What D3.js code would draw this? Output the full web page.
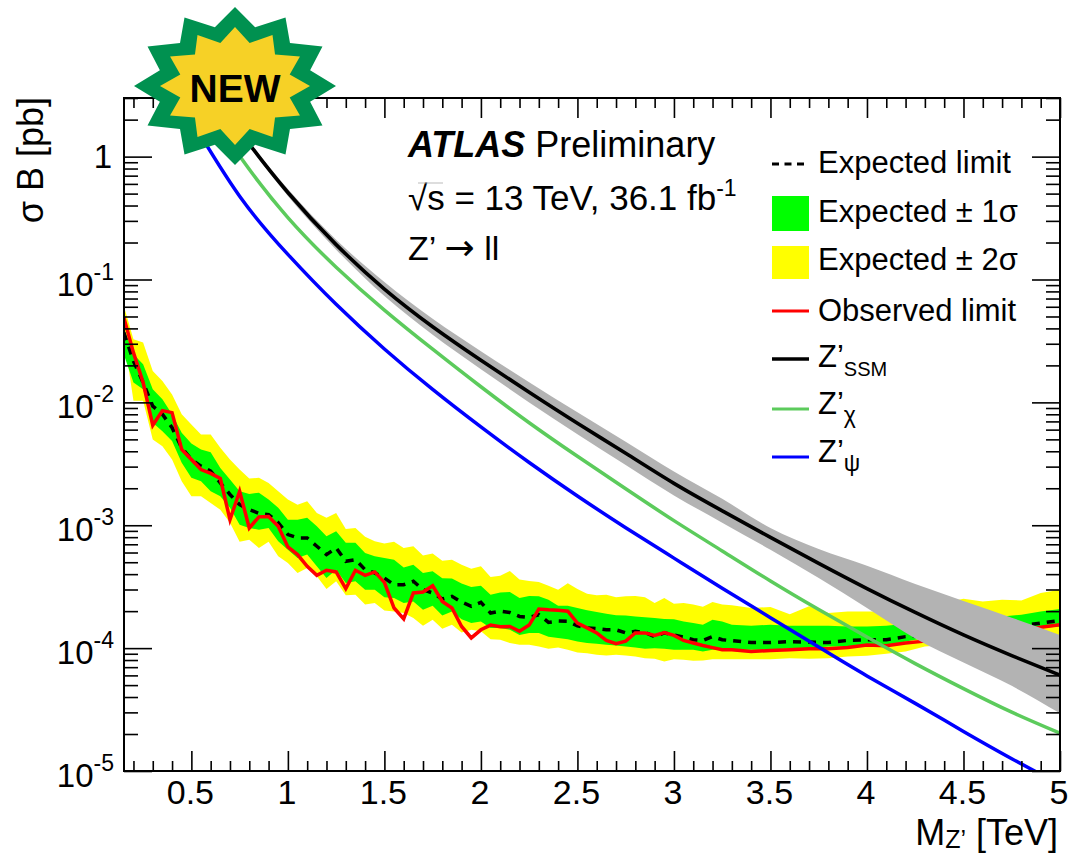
<!DOCTYPE html>
<html>
<head>
<meta charset="utf-8">
<style>
  html, body { margin: 0; padding: 0; background: #fff; }
  svg { display: block; }
  text { font-family: "Liberation Sans", Arial, sans-serif; fill: #000; }
</style>
<script src="https://cdn.jsdelivr.net/npm/d3@7"></script>
</head>
<body>
<svg id="chart" width="1068" height="854"></svg>
<script>
// limit scan: 0.05 TeV steps up to 3.25, 0.1 TeV steps above that
const scanMasses = [
  0.15, 0.2, 0.25, 0.3, 0.35, 0.4, 0.45, 0.5, 0.55, 0.6, 0.65, 0.7, 0.75, 0.8, 0.85, 0.9, 0.95,
  1, 1.05, 1.1, 1.15, 1.2, 1.25, 1.3, 1.35, 1.4, 1.45, 1.5, 1.55, 1.6, 1.65, 1.7,
  1.75, 1.8, 1.85, 1.9, 1.95, 2, 2.05, 2.1, 2.15, 2.2, 2.25, 2.3, 2.35, 2.4, 2.45, 2.5,
  2.55, 2.6, 2.65, 2.7, 2.75, 2.8, 2.85, 2.9, 2.95, 3, 3.05, 3.1, 3.15, 3.2, 3.25,
  3.3, 3.4, 3.5, 3.6, 3.7, 3.8, 3.9, 4, 4.1, 4.2, 4.3, 4.4, 4.5, 4.6, 4.7, 4.8, 4.9, 5
];

// all limit values below are in units of 1e-4 pb
const expectedLimit = [
  370, 217, 145, 93.3, 80, 62.2, 42.7, 34.3, 30.3, 27.6, 22.1, 17.8, 14.7, 13.4, 12.5, 12.2, 10.5,
  8.4, 7.89, 7.89, 6.75, 5.77, 6.54, 5.09, 5.25, 4.35, 4.09, 3.72, 3.28, 3.28, 3.5, 2.99,
  2.81, 2.51, 2.64, 2.37, 2.19, 2.36, 1.93, 2, 1.95, 1.81, 1.78, 1.87, 1.62, 1.66, 1.65, 1.52,
  1.46, 1.44, 1.41, 1.41, 1.33, 1.37, 1.34, 1.24, 1.33, 1.28, 1.23, 1.17, 1.155, 1.24, 1.17,
  1.15, 1.11, 1.11, 1.13, 1.12, 1.11, 1.155, 1.17, 1.17, 1.24, 1.28, 1.37, 1.41, 1.46, 1.48, 1.52, 1.6, 1.68
];
const observedLimit = [
  490, 254, 145, 65.1, 85.7, 82.5, 41.4, 34.3, 28.4, 26.4, 24, 11.1, 18.9, 9.5, 11.7, 11.8, 9.81,
  6.66, 5.77, 4.63, 3.91, 4.3, 4.17, 3.05, 4.3, 3.91, 4.17, 3.43, 2.12, 1.73, 2.81, 2.86,
  3.22, 2.4, 2.12, 1.5, 1.21, 1.41, 1.54, 1.49, 1.5, 1.37, 1.54, 2.08, 2.05, 2.03, 2, 1.6,
  1.46, 1.33, 1.155, 1.085, 1.14, 1.33, 1.33, 1.27, 1.34, 1.27, 1.155, 1.1, 1.05, 1.01, 0.97,
  0.97, 0.94, 0.957, 0.97, 0.988, 0.988, 1.01, 1.06, 1.045, 1.1, 1.14, 1.17, 1.23, 1.26, 1.3, 1.37, 1.48, 1.55
];
const plus2Sigma = [
  610, 326, 307, 180, 149, 116, 80, 66, 54.8, 54.8, 42.7, 34.3, 28.4, 24, 24.3, 22.1, 18.9,
  16.2, 14.7, 15.7, 12.6, 11.5, 12.6, 9.33, 9.51, 8.06, 7.41, 7.09, 7.33, 6.54, 6.75, 5.66,
  5.88, 5.15, 5.25, 4.78, 4.43, 4.63, 3.79, 3.89, 4.24, 3.61, 3.52, 3.45, 3.22, 2.99, 3.37, 3.03,
  2.77, 2.69, 2.72, 2.6, 2.64, 2.65, 2.6, 2.33, 2.56, 2.3, 2.33, 2.27, 2.17, 2.37, 2.26,
  2.23, 2.12, 2.16, 1.89, 2.19, 1.93, 1.99, 1.99, 1.99, 2.05, 2.16, 2.33, 2.52, 2.4, 2.48, 2.44, 2.81, 2.99
];
const plus1Sigma = [
  406, 246, 204, 128, 106, 80, 56.6, 46.3, 41.4, 39.3, 29.3, 23.6, 18.9, 18, 18.4, 16.2, 13.9,
  11.1, 11.1, 11.5, 9.81, 8.13, 8.93, 7.19, 7.19, 5.95, 5.59, 5.42, 5.25, 4.54, 4.78, 4.09,
  4.22, 3.7, 3.68, 3.35, 3.14, 3.22, 2.72, 2.84, 2.86, 2.56, 2.65, 2.64, 2.48, 2.21, 2.21, 2.12,
  2.03, 1.97, 1.9, 1.85, 1.84, 1.81, 1.78, 1.76, 1.73, 1.72, 1.65, 1.6, 1.55, 1.7, 1.65,
  1.55, 1.52, 1.55, 1.52, 1.52, 1.52, 1.5, 1.5, 1.52, 1.58, 1.65, 1.7, 1.76, 1.79, 1.81, 1.87, 1.99, 2.08
];
const minus1Sigma = [
  246, 145, 128, 68.4, 58.2, 48.4, 32.2, 24.3, 22.8, 18.9, 17.2, 13.9, 10.1, 9.51, 9.2, 9.51, 7.41,
  6.33, 5.42, 5.77, 4.63, 3.72, 4.35, 3.39, 3.5, 2.99, 2.99, 2.59, 2.56, 2.33, 2.4, 2.05,
  2.21, 1.84, 1.99, 1.72, 1.6, 1.65, 1.46, 1.46, 1.41, 1.28, 1.33, 1.33, 1.24, 1.21, 1.18, 1.13,
  1.1, 1.085, 1.064, 1.05, 1.03, 1.01, 0.988, 1, 0.988, 0.97, 0.97, 0.97, 0.94, 0.97, 0.97,
  0.97, 0.97, 0.97, 1, 1, 1.03, 1.03, 1.045, 1.03, 1.13, 1.21, 1.24, 1.28, 1.33, 1.37, 1.41, 1.46, 1.5
];
const minus2Sigma = [
  347, 103, 103, 49.9, 44, 34.3, 22.8, 17.2, 17.2, 15.2, 13.4, 10.5, 7.33, 7.63, 6.54, 7.33, 5.59,
  4.94, 4.09, 4.49, 3.84, 3.03, 3.5, 2.69, 2.72, 2.26, 2.33, 2.02, 1.99, 1.93, 1.76, 1.52,
  1.7, 1.44, 1.55, 1.34, 1.41, 1.37, 1.18, 1.17, 1.1, 1.064, 1.064, 1.03, 0.988, 1.01, 0.97, 0.922,
  0.91, 0.882, 0.871, 0.882, 0.871, 0.855, 0.829, 0.818, 0.779, 0.813, 0.803, 0.789, 0.793, 0.813, 0.813,
  0.813, 0.813, 0.813, 0.829, 0.818, 0.829, 0.855, 0.866, 0.9, 0.94, 1.03, 1.06, 1.1, 1.13, 1.155, 1.17, 1.17, 1.17
];

// theory curves, in pb
const theoryMasses = [0.5, 0.75, 1, 1.25, 1.5, 1.75, 2, 2.25, 2.5, 2.75, 3, 3.25, 3.5, 3.75, 4, 4.25, 4.5, 4.75, 5];
const ssmTheory = [5.78, 1.614, 0.5105, 0.1923, 0.0836, 0.0413, 0.02203, 0.01208, 6.76e-3, 3.85e-3, 2.19e-3, 1.31e-3, 7.96e-4, 4.89e-4, 3.05e-4, 1.95e-4, 1.28e-4, 8.69e-5, 6.03e-5];
const ssmUpper = [5.89, 1.675, 0.545, 0.211, 0.0953, 0.048, 0.0261, 0.0146, 8.31e-3, 4.78e-3, 2.74e-3, 1.64e-3, 9.5e-4, 6.41e-4, 4.69e-4, 3.33e-4, 2.42e-4, 1.77e-4, 1.28e-4];
const ssmLower = [5.67, 1.555, 0.478, 0.175, 0.0733, 0.0355, 0.0186, 0.01, 5.5e-3, 3.1e-3, 1.75e-3, 1.05e-3, 6.32e-4, 3.72e-4, 2.12e-4, 1.2e-4, 7.63e-5, 4.93e-5, 2.95e-5];
const chiTheory = [3.9, 1.01, 0.319, 0.126, 0.0564, 0.0271, 0.0134, 6.83e-3, 3.64e-3, 1.98e-3, 1.09e-3, 6.18e-4, 3.52e-4, 2.06e-4, 1.23e-4, 7.48e-5, 4.68e-5, 3.01e-5, 2.03e-5];
const psiTheory = [1.98, 0.476, 0.16, 0.0628, 0.0272, 0.01274, 6.31e-3, 3.24e-3, 1.73e-3, 9.55e-4, 5.4e-4, 3.07e-4, 1.77e-4, 1.02e-4, 5.94e-5, 3.55e-5, 2.1e-5, 1.26e-5, 7.76e-6];

const xMajor = [0.5, 1, 1.5, 2, 2.5, 3, 3.5, 4, 4.5, 5];
const xMinor = d3.range(2, 50).map((d) => d / 10).filter((d) => !xMajor.includes(d));
const yMajor = [1e-5, 1e-4, 1e-3, 1e-2, 1e-1, 1];
const yLabels = ['-5', '-4', '-3', '-2', '-1', null];
const yMinor = yMajor.flatMap((d) => d3.range(2, 10).map((k) => k * d)).filter((d) => d <= 3.001);

const left = 124, right = 1060, top_ = 98, bottom = 771;
const svg = d3.select('#chart');
const x = d3.scaleLinear().domain([0.151, 5]).range([left, right]);
const y = d3.scaleLog().domain([1e-5, 3]).range([bottom, top_]);
const unit = (v) => v * 1e-4;

svg.append('clipPath').attr('id', 'frame')
  .append('rect').attr('x', left).attr('y', top_).attr('width', right - left).attr('height', bottom - top_);

const plot = svg.append('g').attr('clip-path', 'url(#frame)');

function band(masses, upper, lower, colour, shape) {
  const area = d3.area().x((d) => x(d[0])).y0((d) => y(d[1])).y1((d) => y(d[2])).curve(shape || d3.curveLinear);
  plot.append('path').attr('d', area(d3.zip(masses, upper, lower))).attr('fill', colour);
}

function curve(masses, values, colour, width, dash, shape) {
  const line = d3.line().x((d) => x(d[0])).y((d) => y(d[1])).curve(shape || d3.curveLinear);
  plot.append('path').attr('d', line(d3.zip(masses, values)))
    .attr('fill', 'none').attr('stroke', colour).attr('stroke-width', width)
    .attr('stroke-dasharray', dash || null);
}

band(scanMasses, plus2Sigma.map(unit), minus2Sigma.map(unit), '#ffff00');
band(scanMasses, plus1Sigma.map(unit), minus1Sigma.map(unit), '#00ff00');
curve(scanMasses, expectedLimit.map(unit), '#000', 3.5, '8 7');
curve(scanMasses, observedLimit.map(unit), '#ff0000', 3.5);
band(theoryMasses, ssmUpper, ssmLower, '#b3b3b3', d3.curveMonotoneX);
curve(theoryMasses, ssmTheory, '#000', 3.6, null, d3.curveNatural);
curve(theoryMasses, chiTheory, '#5ccb5c', 3.5, null, d3.curveNatural);
curve(theoryMasses, psiTheory, '#0000ff', 3.5, null, d3.curveNatural);

// axes: major and minor ticks on all four sides, labels are added by hand
function ticks(axisFn, scale, values, size, transform) {
  const g = svg.append('g').attr('transform', transform)
    .call(axisFn(scale).tickValues(values).tickSizeInner(-size).tickSizeOuter(0).tickFormat(() => ''));
  g.select('.domain').remove();
  g.selectAll('line').attr('stroke', '#000').attr('stroke-width', 1.6);
}
ticks(d3.axisBottom, x, xMajor, 20, `translate(0,${bottom})`);
ticks(d3.axisBottom, x, xMinor, 10, `translate(0,${bottom})`);
ticks(d3.axisTop, x, xMajor, 20, `translate(0,${top_})`);
ticks(d3.axisTop, x, xMinor, 10, `translate(0,${top_})`);
ticks(d3.axisLeft, y, yMajor, 28, `translate(${left},0)`);
ticks(d3.axisLeft, y, yMinor, 14, `translate(${left},0)`);
ticks(d3.axisRight, y, yMajor, 28, `translate(${right},0)`);
ticks(d3.axisRight, y, yMinor, 14, `translate(${right},0)`);

svg.append('rect').attr('x', left).attr('y', top_).attr('width', right - left).attr('height', bottom - top_)
  .attr('fill', 'none').attr('stroke', '#000').attr('stroke-width', 2);

svg.selectAll('.xlab').data(xMajor).join('text')
  .attr('x', (d) => x(d) - 1).attr('y', 804).attr('text-anchor', 'middle')
  .attr('font-size', 34).text((d) => d);

yMajor.forEach((d, i) => {
  const t = svg.append('text').attr('text-anchor', 'end').attr('font-size', 33);
  if (yLabels[i] === null) {
    t.attr('x', 112).attr('y', y(d) + 11).text('1');
  } else {
    t.attr('x', 114).attr('y', y(d) + 16);
    t.append('tspan').text('10');
    t.append('tspan').attr('font-size', 23).attr('dy', -16).text(yLabels[i]);
  }
});

// x and y titles
const xTitle = svg.append('text').attr('x', 1058).attr('y', 845).attr('text-anchor', 'end').attr('font-size', 36);
xTitle.append('tspan').text('M');
xTitle.append('tspan').attr('font-size', 25).attr('dy', 3).text('Z’');
xTitle.append('tspan').attr('dy', -3).text(' [TeV]');

svg.append('text').attr('transform', 'translate(43,97) rotate(-90)')
  .attr('text-anchor', 'end').attr('font-size', 36).text('σ B [pb]');

// header text
const atlas = svg.append('text').attr('x', 408).attr('y', 157).attr('font-size', 36);
atlas.append('tspan').attr('font-weight', 'bold').attr('font-style', 'italic').text('ATLAS');
atlas.append('tspan').text(' Preliminary');

const energy = svg.append('text').attr('x', 408).attr('y', 210).attr('font-size', 35);
energy.append('tspan').text('√s = 13 TeV, 36.1 fb');
energy.append('tspan').attr('font-size', 23).attr('dy', -14).text('-1');
svg.append('line').attr('x1', 418).attr('x2', 443).attr('y1', 183).attr('y2', 183)
  .attr('stroke', '#aaa').attr('stroke-width', 0.8);

const decay = svg.append('text').attr('x', 408).attr('y', 260).attr('font-size', 34);
decay.append('tspan').text('Z’ ');
decay.append('tspan').attr('font-family', '"DejaVu Sans"').attr('font-size', 36).text('→');
decay.append('tspan').text(' ll');

// legend
const legX0 = 772, legX1 = 809, legText = 818;
function legendLine(yPos, colour, width, dash) {
  svg.append('line').attr('x1', legX0).attr('x2', legX1).attr('y1', yPos).attr('y2', yPos)
    .attr('stroke', colour).attr('stroke-width', width).attr('stroke-dasharray', dash || null);
}
function legendBox(yPos, h, colour) {
  svg.append('rect').attr('x', legX0).attr('y', yPos).attr('width', legX1 - legX0).attr('height', h).attr('fill', colour);
}
function legendText(base, main, sub, subSize) {
  const t = svg.append('text').attr('x', legText).attr('y', base).attr('font-size', 31).text(main);
  if (sub) t.append('tspan').attr('font-size', subSize || 20).attr('dy', 9).text(sub);
}
legendLine(164, '#000', 3, '7 5.5');
legendText(173, 'Expected limit');
legendBox(196, 35, '#00ff00');
legendText(222, 'Expected ± 1σ');
legendBox(246, 33, '#ffff00');
legendText(270, 'Expected ± 2σ');
legendLine(311, '#ff0000', 3);
legendText(321, 'Observed limit');
legendLine(359, '#000', 3.5);
legendText(367, 'Z’', 'SSM');
legendLine(409, '#5ccb5c', 3);
legendText(414, 'Z’', 'χ', 23);
legendLine(457, '#0000ff', 3);
legendText(462, 'Z’', 'ψ', 23);

// NEW badge sits on top of the frame
function starPath(rx, ry, notch) {
  const pts = d3.range(24).map((i) => {
    const a = (i * Math.PI) / 12;
    const r = i % 2 === 0 ? 1 : notch;
    return [rx * r * Math.cos(a), ry * r * Math.sin(a)];
  });
  return d3.line()(pts) + 'Z';
}
const badge = svg.append('g').attr('transform', 'translate(235,86)');
badge.append('path').attr('d', starPath(101, 79, 0.77)).attr('fill', '#009150');
badge.append('path').attr('d', starPath(75, 59, 0.755)).attr('fill', '#f6d126');
badge.append('text').attr('x', 0).attr('y', 15.5).attr('text-anchor', 'middle')
  .attr('font-size', 39).attr('font-weight', 'bold').text('NEW');
</script>
</body>
</html>
